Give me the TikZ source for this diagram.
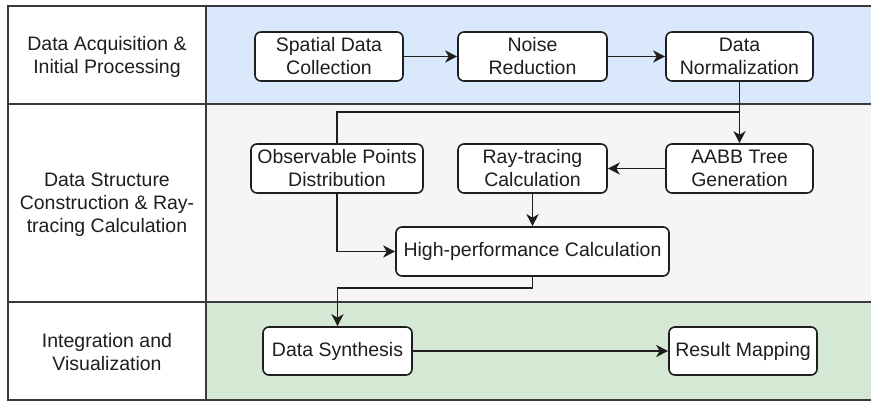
\documentclass[tikz,border=0pt]{standalone}
\usepackage{fontspec}
\setmainfont{Liberation Sans}
\usetikzlibrary{arrows.meta}
\definecolor{laneblue}{HTML}{DAE8FC}
\definecolor{lanegray}{HTML}{F5F5F5}
\definecolor{lanegreen}{HTML}{D5E8D4}
\definecolor{ink}{HTML}{1E1E1E}
\definecolor{frameline}{HTML}{3A3A3A}
\begin{document}
\begin{tikzpicture}[x=1pt,y=-1pt,
  txt/.style={font=\fontsize{19.5}{23}\selectfont, text=ink, align=center},
  stepbox/.style={txt, draw=ink, line width=1.6pt, rounded corners=6pt,
    fill=white, inner sep=0pt, minimum height=49pt},
  lanehead/.style={txt},
  wire/.style={draw=ink, line width=1.5pt},
  flow/.style={wire, -{Stealth[length=12pt,width=12pt,inset=3.5pt]}},
  lanebox/.style={draw=frameline, line width=1.6pt}
]
\useasboundingbox (0,0) rectangle (871,401);
\clip (0,0) rectangle (871,401);

% swimlane backgrounds
\fill[white] (8,6) rectangle (206,400);
\fill[laneblue]  (206,6)   rectangle (880,104);
\fill[lanegray]  (206,104) rectangle (880,302);
\fill[lanegreen] (206,302) rectangle (880,400);
\draw[lanebox] (880,6) -- (8,6) -- (8,400) -- (880,400);
\draw[lanebox] (8,104) -- (880,104);
\draw[lanebox] (8,302) -- (880,302);
\draw[lanebox] (206,6) -- (206,400);

% lane titles
\node[lanehead] (h1) at (107,57) {Data Acquisition \&\\Initial Processing};
\node[lanehead] (h2) at (107,205) {Data Structure\\Construction \& Ray-\\tracing Calculation};
\node[lanehead] (h3) at (107,352) {Integration and\\Visualization};

% process steps
\node[stepbox, minimum width=148pt] (sdc) at (329,56.5) {Spatial Data\\Collection};
\node[stepbox, minimum width=149pt] (nr)  at (532.5,56.5) {Noise\\Reduction};
\node[stepbox, minimum width=147pt] (dn)  at (739.5,56.5) {Data\\Normalization};
\node[stepbox, minimum width=172pt] (obs) at (337,168.5) {Observable Points\\Distribution};
\node[stepbox, minimum width=149pt] (rtc) at (532.5,168.5) {Ray-tracing\\Calculation};
\node[stepbox, minimum width=147pt] (aabb) at (739.5,168.5) {AABB Tree\\Generation};
\node[stepbox, minimum width=273pt] (hpc) at (532.5,251.5) {High-performance Calculation};
\node[stepbox, minimum width=149pt, minimum height=48pt] (ds) at (337.5,351) {Data Synthesis};
\node[stepbox, minimum width=148pt, minimum height=48pt] (rm) at (743,351) {Result Mapping};

% connectors
\coordinate (split) at (dn.south |- 0,112);
\draw[flow] (sdc) -- (nr);
\draw[flow] (nr) -- (dn);
\draw[flow] (dn) -- (aabb);
\draw[wire] (obs.north) |- (split);
\draw[flow] (aabb) -- (rtc);
\draw[flow] (rtc) -- (hpc);
\draw[flow] (obs.south) |- (hpc.west);
\draw[flow] (hpc.south) -- ++(0,11) -| (ds.north);
\draw[flow] (ds) -- (rm);
\end{tikzpicture}
\end{document}
